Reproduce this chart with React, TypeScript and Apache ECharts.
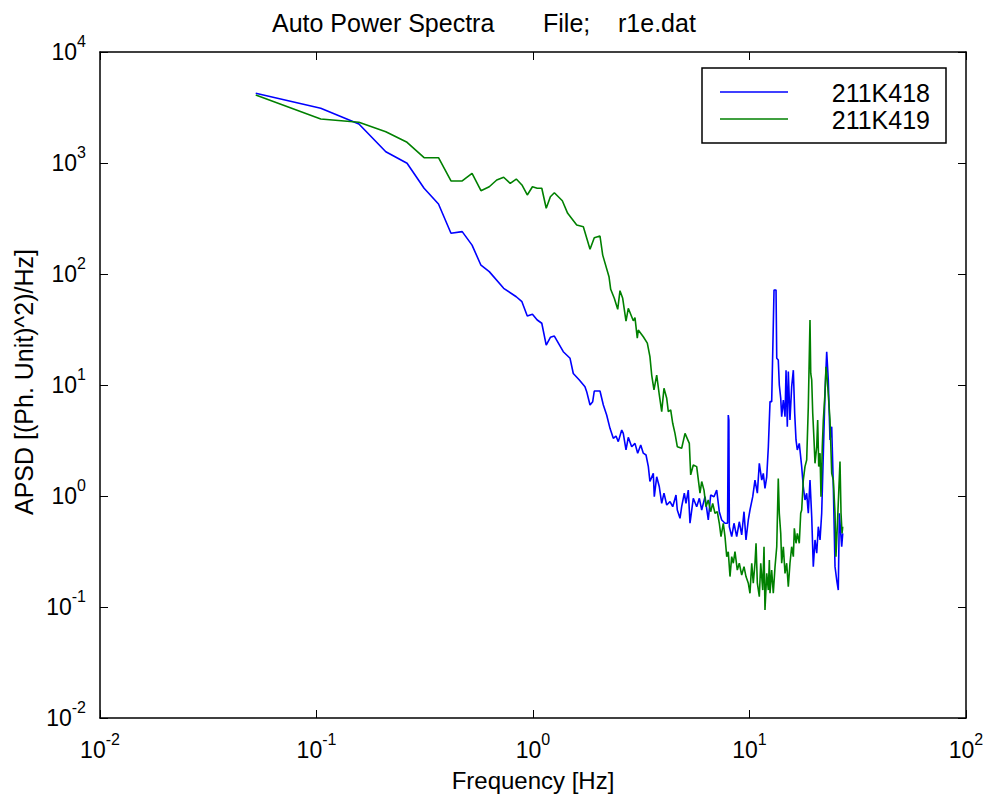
import React, { useEffect, useRef } from "react";
import * as echarts from "echarts";

// ---- data (frequency [Hz], APSD) ----
const seriesNames = ["211K418", "211K419"];

const k418Spectrum: [number, number][] = [
  [0.0524, 4250], [0.1046, 3110], [0.157, 2245], [0.209, 1264], [0.262, 994], [0.314, 592],
  [0.366, 427], [0.418, 233], [0.471, 241], [0.523, 182], [0.575, 120], [0.628, 105],
  [0.732, 74.3], [0.837, 62.4], [0.889, 56.3], [0.941, 41.9], [0.994, 43.4], [1.046, 38.5],
  [1.098, 36.0], [1.151, 22.9], [1.203, 26.9], [1.255, 27.6], [1.38, 19.95], [1.483, 17.4],
  [1.535, 12.7], [1.637, 11.1], [1.738, 9.66], [1.77, 8.71], [1.834, 6.61], [1.887, 7.08],
  [1.919, 8.83], [2.039, 8.83], [2.113, 6.61], [2.189, 5.37], [2.268, 4.07], [2.349, 3.31],
  [2.417, 3.47], [2.477, 3.09], [2.569, 3.93], [2.612, 3.67], [2.689, 2.6], [2.755, 3.38],
  [2.857, 2.78], [2.958, 2.98], [3.045, 2.43], [3.144, 2.88], [3.232, 2.43], [3.327, 2.34],
  [3.41, 1.84], [3.468, 1.35], [3.595, 1.6], [3.633, 0.986], [3.727, 1.49], [3.832, 1.21],
  [3.931, 0.859], [4.027, 1.06], [4.146, 0.83], [4.294, 0.889], [4.419, 0.801], [4.576, 1.02],
  [4.64, 0.748], [4.775, 0.63], [4.861, 0.801], [5.0, 1.06], [5.089, 0.859], [5.215, 1.13],
  [5.311, 0.568], [5.5, 0.953], [5.702, 0.801], [5.866, 0.953], [6.015, 0.748], [6.23, 0.986],
  [6.451, 0.608], [6.618, 1.02], [6.855, 0.986], [7.055, 1.13], [7.253, 0.722], [7.441, 0.608],
  [7.706, 0.568], [7.92, 0.57], [7.98, 5.37], [8.03, 4.84], [8.07, 0.529], [8.276, 0.43],
  [8.48, 0.568], [8.727, 0.43], [8.971, 0.586], [9.204, 0.446], [9.432, 0.722], [9.634, 0.402],
  [9.874, 0.608], [10.05, 0.748], [10.35, 0.986], [10.6, 1.39], [10.87, 1.06], [11.1, 1.97],
  [11.39, 1.39], [11.58, 1.6], [11.79, 1.17], [12.01, 1.49], [12.22, 2.78], [12.44, 7.08],
  [12.66, 7.08], [12.8, 19.3], [12.98, 71.8], [13.26, 71.8], [13.36, 17.4], [13.58, 16.8],
  [13.73, 10.0], [13.94, 7.59], [14.08, 5.18], [14.33, 7.33], [14.59, 5.18], [14.75, 13.6],
  [14.95, 4.21], [15.11, 13.2], [15.38, 4.84], [15.66, 9.66], [15.94, 13.6], [16.17, 5.56],
  [16.4, 3.2], [16.63, 2.6], [16.98, 2.98], [17.42, 1.84], [17.72, 1.21], [18.04, 0.92],
  [18.37, 1.06], [18.69, 0.699], [19.03, 1.39], [19.38, 0.651], [19.71, 0.231], [20.07, 0.402],
  [20.44, 0.305], [20.79, 0.529], [21.17, 0.402], [21.55, 0.699], [21.93, 2.43], [22.32, 8.41],
  [22.73, 19.95], [23.12, 11.1], [23.54, 3.2], [23.97, 4.21], [24.39, 1.21], [24.83, 0.231],
  [25.28, 0.175], [25.71, 0.142], [26.0, 0.699], [26.66, 0.349], [26.95, 0.461],
];

const k419Spectrum: [number, number][] = [
  [0.0524, 4100], [0.1046, 2490], [0.157, 2327], [0.209, 1915], [0.262, 1536], [0.314, 1116],
  [0.366, 1116], [0.418, 689], [0.471, 689], [0.523, 808], [0.575, 563], [0.628, 611],
  [0.68, 703], [0.732, 744], [0.785, 656], [0.837, 717], [0.889, 634], [0.941, 515],
  [0.994, 611], [1.046, 592], [1.098, 592], [1.151, 391], [1.203, 497], [1.255, 540],
  [1.366, 457], [1.446, 352], [1.592, 276], [1.708, 267], [1.834, 167], [1.919, 212],
  [2.039, 220], [2.099, 148], [2.244, 94.6], [2.285, 72.8], [2.374, 60.4], [2.462, 48.1],
  [2.522, 70.8], [2.596, 60.4], [2.689, 37.7], [2.755, 49.1], [2.906, 37.9], [2.958, 40.4],
  [3.032, 26.4], [3.064, 31.3], [3.232, 27.2], [3.373, 23.8], [3.468, 18.0], [3.534, 12.3],
  [3.621, 9.02], [3.727, 12.3], [3.832, 8.13], [3.931, 5.75], [4.027, 9.34], [4.146, 7.59],
  [4.217, 5.75], [4.325, 5.96], [4.419, 4.52], [4.527, 3.67], [4.64, 2.78], [4.861, 2.69],
  [5.037, 3.67], [5.272, 2.98], [5.35, 1.55], [5.5, 1.9], [5.702, 1.84], [5.907, 1.06],
  [6.015, 1.35], [6.163, 1.13], [6.295, 0.801], [6.451, 0.92], [6.618, 0.722], [6.761, 0.859],
  [6.927, 0.699], [7.1, 0.722], [7.253, 0.568], [7.386, 0.43], [7.568, 0.568], [7.706, 0.43],
  [7.848, 0.284], [7.98, 0.315], [8.127, 0.188], [8.276, 0.284], [8.418, 0.248], [8.57, 0.315],
  [8.784, 0.215], [8.971, 0.248], [9.204, 0.194], [9.432, 0.231], [9.634, 0.188], [9.874, 0.164],
  [10.05, 0.133], [10.24, 0.248], [10.41, 0.164], [10.6, 0.248], [10.72, 0.375], [10.87, 0.164],
  [11.1, 0.124], [11.27, 0.248], [11.51, 0.142], [11.67, 0.349], [11.79, 0.094], [12.01, 0.201],
  [12.22, 0.142], [12.35, 0.265], [12.44, 0.133], [12.66, 0.215], [12.88, 0.133], [13.12, 0.231],
  [13.36, 0.349], [13.58, 1.44], [13.73, 0.699], [13.94, 0.461], [14.08, 0.248], [14.33, 0.349],
  [14.59, 0.201], [14.85, 0.248], [15.11, 0.152], [15.38, 0.248], [15.66, 0.349], [15.94, 0.284],
  [16.11, 0.512], [16.4, 0.375], [16.63, 0.461], [16.98, 0.375], [17.24, 0.699], [17.42, 0.748],
  [17.72, 1.39], [18.04, 1.84], [18.37, 2.11], [18.69, 6.38], [19.03, 38.5], [19.18, 12.7],
  [19.38, 11.1], [19.59, 5.56], [19.86, 3.2], [20.07, 1.97], [20.44, 2.78], [20.65, 4.84],
  [20.88, 1.84], [21.17, 2.43], [21.39, 0.986], [21.69, 2.78], [21.93, 4.84], [22.32, 8.41],
  [22.56, 14.6], [22.87, 11.1], [23.21, 7.33], [23.54, 4.84], [23.97, 1.6], [24.39, 1.39],
  [24.83, 0.699], [25.08, 0.284], [25.44, 0.529], [25.82, 1.06], [26.18, 2.04], [26.47, 0.699],
  [26.76, 0.461], [26.95, 0.529],
];

const xRange = [0.01, 100];
const yRange = [0.01, 10000];
const titleParts = ["Auto Power Spectra", "File;", "r1e.dat"];
const xAxisTitle = "Frequency [Hz]";
const yAxisTitle = "APSD [(Ph. Unit)^2)/Hz]";
const seriesColors = ["#0000ff", "#008000"];

const FONT = "'Liberation Sans', Arial, Helvetica, sans-serif";

const powerLabel = (v: number) => {
  const e = Math.round(Math.log10(v));
  return `{b|10}{e|${e}}`;
};

const labelRich = {
  b: { fontSize: 23, lineHeight: 38, color: "#000", fontFamily: FONT, verticalAlign: "middle" },
  e: { fontSize: 16, lineHeight: 14, color: "#000", fontFamily: FONT, verticalAlign: "top" },
};

export default function App() {
  const ref = useRef<HTMLDivElement>(null);

  useEffect(() => {
    if (!ref.current) return;
    const chart = echarts.init(ref.current, undefined, { renderer: "svg" });

    const axisLine = { show: true, onZero: false, lineStyle: { color: "#000", width: 1.5 } };
    const axisTick = { show: true, inside: true, length: 8, lineStyle: { color: "#000", width: 1 } };

    chart.setOption({
      animation: false,
      backgroundColor: "#fff",
      grid: { left: 100, right: 24, top: 52, bottom: 83, containLabel: false },
      xAxis: [
        {
          type: "log",
          logBase: 10,
          min: xRange[0],
          max: xRange[1],
          splitNumber: 4,
          position: "bottom",
          axisLine,
          axisTick,
          splitLine: { show: false },
          minorTick: { show: false },
          axisLabel: { formatter: powerLabel, rich: labelRich, margin: 13, color: "#000" },
          name: xAxisTitle,
          nameLocation: "middle",
          nameGap: 50,
          nameTextStyle: { fontSize: 24, fontFamily: FONT, color: "#000", lineHeight: 24 },
        },
        {
          type: "log",
          logBase: 10,
          min: xRange[0],
          max: xRange[1],
          splitNumber: 4,
          position: "top",
          axisLine,
          axisTick,
          splitLine: { show: false },
          axisLabel: { show: false },
        },
      ],
      yAxis: [
        {
          type: "log",
          logBase: 10,
          min: yRange[0],
          max: yRange[1],
          splitNumber: 6,
          position: "left",
          axisLine,
          axisTick,
          splitLine: { show: false },
          minorTick: { show: false },
          axisLabel: { formatter: powerLabel, rich: labelRich, margin: 14, color: "#000" },
        },
        {
          type: "log",
          logBase: 10,
          min: yRange[0],
          max: yRange[1],
          splitNumber: 6,
          position: "right",
          axisLine,
          axisTick,
          splitLine: { show: false },
          axisLabel: { show: false },
        },
      ],
      series: [
        {
          name: seriesNames[0],
          type: "line",
          data: k418Spectrum,
          showSymbol: false,
          symbol: "none",
          silent: true,
          lineStyle: { color: seriesColors[0], width: 1.6 },
          itemStyle: { color: seriesColors[0] },
          z: 2,
        },
        {
          name: seriesNames[1],
          type: "line",
          data: k419Spectrum,
          showSymbol: false,
          symbol: "none",
          silent: true,
          lineStyle: { color: seriesColors[1], width: 1.6 },
          itemStyle: { color: seriesColors[1] },
          z: 3,
        },
      ],
      graphic: [
        {
          type: "text",
          left: 272,
          top: 10,
          style: { text: titleParts[0], fontSize: 25, fontFamily: FONT, fill: "#000" },
        },
        {
          type: "text",
          left: 543,
          top: 10,
          style: { text: titleParts[1], fontSize: 25, fontFamily: FONT, fill: "#000" },
        },
        {
          type: "text",
          left: 618,
          top: 10,
          style: { text: titleParts[2], fontSize: 25, fontFamily: FONT, fill: "#000" },
        },
        {
          type: "text",
          x: 24,
          y: 382,
          rotation: Math.PI / 2,
          style: {
            text: yAxisTitle,
            fontSize: 25,
            fontFamily: FONT,
            fill: "#000",
            align: "center",
            verticalAlign: "middle",
          },
        },
        {
          type: "group",
          z: 100,
          children: [
            {
              type: "rect",
              shape: { x: 702, y: 68, width: 244, height: 75 },
              style: { fill: "#fff", stroke: "#000", lineWidth: 1.5 },
            },
            {
              type: "line",
              shape: { x1: 720, y1: 92, x2: 788, y2: 92 },
              style: { stroke: seriesColors[0], lineWidth: 1.6 },
            },
            {
              type: "line",
              shape: { x1: 720, y1: 119, x2: 788, y2: 119 },
              style: { stroke: seriesColors[1], lineWidth: 1.6 },
            },
            {
              type: "text",
              x: 930,
              y: 93,
              style: {
                text: seriesNames[0],
                fontSize: 25,
                fontFamily: FONT,
                fill: "#000",
                align: "right",
                verticalAlign: "middle",
              },
            },
            {
              type: "text",
              x: 930,
              y: 120,
              style: {
                text: seriesNames[1],
                fontSize: 25,
                fontFamily: FONT,
                fill: "#000",
                align: "right",
                verticalAlign: "middle",
              },
            },
          ],
        },
      ],
    });

    return () => chart.dispose();
  }, []);

  return (
    <div
      ref={ref}
      style={{ position: "absolute", left: 0, top: 0, width: 990, height: 801, background: "#fff" }}
    />
  );
}
